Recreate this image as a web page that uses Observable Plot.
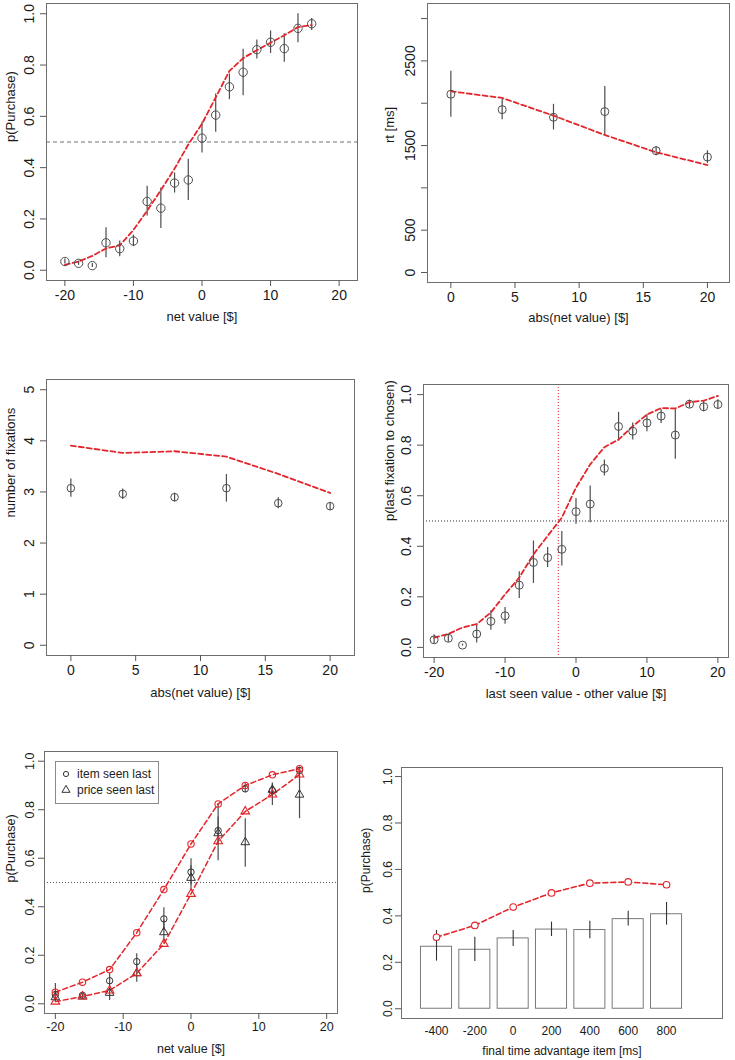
<!DOCTYPE html>
<html><head><meta charset="utf-8">
<script src="https://cdn.jsdelivr.net/npm/d3@7"></script>
<script src="https://cdn.jsdelivr.net/npm/@observablehq/plot@0.6"></script>
<style>
body{margin:0;background:#fff;font-family:"Liberation Sans",Arial,sans-serif;}
#page{position:relative;width:735px;height:1060px;overflow:hidden;background:#fff;}
.panel{position:absolute;}
.legend{position:absolute;border:1px solid #8a8a8a;background:#fff;font-size:12px;color:#222;}
.legend div{position:absolute;white-space:nowrap;line-height:12px;}
</style></head><body><div id="page"></div>
<script>
// ---------- Panel 1: p(Purchase) vs net value ----------
const p1X = [-20,-18,-16,-14,-12,-10,-8,-6,-4,-2,0,2,4,6,8,10,12,14,16];
const p1Obs = [0.034,0.027,0.018,0.107,0.084,0.114,0.268,0.242,0.340,0.352,0.515,0.605,0.715,0.772,0.860,0.889,0.864,0.943,0.961];
const p1Lo  = [0.024,0.019,0.011,0.049,0.053,0.092,0.211,0.163,0.301,0.272,0.457,0.538,0.665,0.680,0.824,0.845,0.811,0.887,0.935];
const p1Hi  = [0.044,0.036,0.026,0.166,0.114,0.137,0.327,0.321,0.379,0.433,0.577,0.687,0.765,0.862,0.898,0.933,0.922,1.000,0.982];
const p1Model = [0.021,0.034,0.056,0.085,0.097,0.157,0.232,0.312,0.396,0.490,0.571,0.674,0.777,0.827,0.858,0.887,0.916,0.948,0.956];

// ---------- Panel 2: rt vs abs(net value) ----------
const p2X = [0,4,8,12,16,20];
const p2Obs = [2106,1924,1834,1901,1439,1364];
const p2Lo  = [1834,1806,1684,1617,1380,1289];
const p2Hi  = [2378,2043,1987,2196,1487,1439];
const p2Model = [2141,2062,1853,1625,1420,1270];

// ---------- Panel 3: number of fixations ----------
const p3X = [0,4,8,12,16,20];
const p3Obs = [3.073,2.962,2.897,3.073,2.780,2.721];
const p3Lo  = [2.897,2.850,2.800,2.800,2.669,2.637];
const p3Hi  = [3.255,3.060,2.975,3.340,2.884,2.800];
const p3Model = [3.906,3.763,3.796,3.690,3.353,2.980];

// ---------- Panel 4: p(last fixation to chosen) ----------
const p4X = [-20,-18,-16,-14,-12,-10,-8,-6,-4,-2,0,2,4,6,8,10,12,14,16,18,20];
const p4Obs = [0.030,0.036,0.009,0.053,0.103,0.125,0.246,0.336,0.355,0.388,0.537,0.567,0.708,0.874,0.855,0.888,0.915,0.840,0.962,0.952,0.961];
const p4Lo  = [0.013,0.020,0.005,0.017,0.068,0.092,0.193,0.253,0.316,0.322,0.487,0.493,0.678,0.816,0.820,0.853,0.886,0.744,0.947,0.932,0.941];
const p4Hi  = [0.050,0.053,0.013,0.092,0.145,0.158,0.299,0.421,0.395,0.458,0.589,0.638,0.741,0.930,0.888,0.921,0.941,0.940,0.978,0.974,0.980];
const p4Model = [0.039,0.053,0.079,0.092,0.138,0.210,0.276,0.368,0.441,0.513,0.632,0.724,0.792,0.822,0.875,0.921,0.947,0.945,0.970,0.976,0.995];
const p4Cross = [-2.5];

// ---------- Panel 5: item vs price seen last ----------
const p5X = [-20,-16,-12,-8,-4,0,4,8,12,16];
const p5ItemObs = [0.038,0.035,0.095,0.174,0.350,0.543,0.714,0.886,0.879,0.962];
const p5ItemLo  = [0.007,0.025,0.065,0.144,0.302,0.490,0.655,0.870,0.850,0.945];
const p5ItemHi  = [0.084,0.045,0.125,0.206,0.396,0.598,0.770,0.910,0.910,0.975];
const p5PriceObs = [0.027,0.030,0.045,0.126,0.295,0.519,0.703,0.666,0.882,0.862];
const p5PriceLo  = [0.010,0.020,0.014,0.089,0.250,0.467,0.590,0.563,0.817,0.763];
const p5PriceHi  = [0.050,0.040,0.064,0.165,0.345,0.570,0.825,0.763,0.907,0.975];
const p5ItemModel  = [0.048,0.089,0.141,0.293,0.471,0.659,0.824,0.900,0.944,0.969];
const p5PriceModel = [0.009,0.030,0.055,0.126,0.247,0.453,0.670,0.793,0.863,0.945];
const p5Legend = ["item seen last", "price seen last"];

// ---------- Panel 6: final time advantage ----------
const p6X = [-400,-200,0,200,400,600,800];
const p6Obs = [0.267,0.254,0.303,0.341,0.339,0.386,0.407];
const p6Lo  = [0.205,0.204,0.268,0.311,0.301,0.356,0.360];
const p6Hi  = [0.337,0.308,0.337,0.373,0.377,0.420,0.458];
const p6Model = [0.308,0.359,0.438,0.499,0.541,0.546,0.534];

// ---------- tick labels ----------
const ticksNet = [-20,-10,0,10,20];
const ticksAbs = [0,5,10,15,20];
const ticksProb = [0,0.2,0.4,0.6,0.8,1.0];
const ticksRt = [0,500,1000,1500,2000,2500,3000];
const ticksRtLabelled = [0,500,1500,2500];
const ticksFix = [0,1,2,3,4,5];
const ticksTime = [-400,-200,0,200,400,600,800];

const RED = "#e3262c";
const GREY = "#4d4d4d";
const page = document.getElementById("page");

const rowsOf = (xs, cols) => xs.map((x, i) => {
  const r = {x};
  for (const k in cols) r[k] = cols[k][i];
  return r;
});

function mount(left, top, el) {
  const d = document.createElement("div");
  d.className = "panel";
  d.style.left = left + "px";
  d.style.top = top + "px";
  d.appendChild(el);
  page.appendChild(d);
}

function makePanel(c) {
  const fs = c.fontSize;
  const marks = [
    ...c.marks,
    Plot.frame({stroke: "#6e6e6e", strokeWidth: 1}),
    Plot.axisX({ticks: c.xTicks, tickSize: c.xTickSize ?? 6, tickPadding: c.xPad ?? 4,
      tickFormat: d => String(d), fontSize: fs, label: null, stroke: "#555", fill: "#1a1a1a"}),
    Plot.axisY({ticks: c.yTicks, tickSize: 6, tickRotate: -90, tickPadding: c.yPad ?? 7,
      tickFormat: c.yFormat, fontSize: fs, label: null, stroke: "#555", fill: "#1a1a1a"}),
    Plot.text([c.xTitle], {text: d => d, frameAnchor: "bottom", dy: c.xTitleDy, fontSize: c.titleSize,
      lineAnchor: "middle", fill: "#1a1a1a"}),
    Plot.text([c.yTitle], {text: d => d, frameAnchor: "left", dx: -c.yTitleDx, rotate: -90,
      fontSize: c.titleSize, lineAnchor: "middle", fill: "#1a1a1a"})
  ];
  return Plot.plot({
    width: c.width, height: c.height,
    marginLeft: c.mL, marginRight: c.mR, marginTop: c.mT, marginBottom: c.mB,
    x: {type: "linear", domain: c.xDomain},
    y: {type: "linear", domain: c.yDomain},
    style: {fontFamily: "'Liberation Sans', Arial, sans-serif", background: "transparent",
      overflow: "visible", color: "#1a1a1a"},
    marks
  });
}

const f1 = d => d.toFixed(1);

// Panel 1
{
  const rows = rowsOf(p1X, {obs: p1Obs, lo: p1Lo, hi: p1Hi, model: p1Model});
  mount(0, 0, makePanel({
    width: 367, height: 330, mL: 46, mR: 10, mT: 3, mB: 50,
    xDomain: [-22.68, 22.68], yDomain: [-0.04, 1.04],
    xTicks: ticksNet, yTicks: ticksProb, yFormat: f1, fontSize: 14, titleSize: 13,
    xTitle: "net value [$]", xTitleDy: 36, yTitle: "p(Purchase)", yTitleDx: 36,
    marks: [
      Plot.ruleY([0.5], {stroke: "#707070", strokeDasharray: "4,3", strokeWidth: 1}),
      Plot.ruleX(rows, {x: "x", y1: "lo", y2: "hi", stroke: GREY, strokeWidth: 1.2}),
      Plot.line(rows, {x: "x", y: "model", stroke: RED, strokeWidth: 1.8, strokeDasharray: "5,3"}),
      Plot.dot(rows, {x: "x", y: "obs", r: 4.2, stroke: GREY, fill: "none", strokeWidth: 1})
    ]
  }));
}

// Panel 2
{
  const rows = rowsOf(p2X, {obs: p2Obs, lo: p2Lo, hi: p2Hi, model: p2Model});
  mount(367, 0, makePanel({
    width: 368, height: 330, mL: 60, mR: 6, mT: 3, mB: 48,
    xDomain: [-1.82, 21.72], yDomain: [-118, 3178],
    xTicks: ticksAbs, yTicks: ticksRt,
    yFormat: d => ticksRtLabelled.includes(d) ? String(d) : "",
    fontSize: 14, titleSize: 13,
    xTitle: "abs(net value) [$]", xTitleDy: 35, yTitle: "rt [ms]", yTitleDx: 38,
    marks: [
      Plot.ruleX(rows, {x: "x", y1: "lo", y2: "hi", stroke: GREY, strokeWidth: 1.2}),
      Plot.line(rows, {x: "x", y: "model", stroke: RED, strokeWidth: 1.8, strokeDasharray: "5,3"}),
      Plot.dot(rows, {x: "x", y: "obs", r: 4, stroke: GREY, fill: "none", strokeWidth: 1})
    ]
  }));
}

// Panel 3
{
  const rows = rowsOf(p3X, {obs: p3Obs, lo: p3Lo, hi: p3Hi, model: p3Model});
  mount(0, 335, makePanel({
    width: 367, height: 365, mL: 46, mR: 13, mT: 44, mB: 45,
    xDomain: [-1.88, 21.88], yDomain: [-0.2, 5.2],
    xTicks: ticksAbs, yTicks: ticksFix, yFormat: d => String(d), fontSize: 14, titleSize: 13,
    xTitle: "abs(net value) [$]", xTitleDy: 37, yTitle: "number of fixations", yTitleDx: 36,
    marks: [
      Plot.ruleX(rows, {x: "x", y1: "lo", y2: "hi", stroke: GREY, strokeWidth: 1.2}),
      Plot.line(rows, {x: "x", y: "model", stroke: RED, strokeWidth: 1.8, strokeDasharray: "5,3"}),
      Plot.dot(rows, {x: "x", y: "obs", r: 3.8, stroke: GREY, fill: "none", strokeWidth: 1})
    ]
  }));
}

// Panel 4
{
  const rows = rowsOf(p4X, {obs: p4Obs, lo: p4Lo, hi: p4Hi, model: p4Model});
  mount(367, 335, makePanel({
    width: 368, height: 365, mL: 56, mR: 7, mT: 49, mB: 43,
    xDomain: [-21.5, 21.5], yDomain: [-0.04, 1.04],
    xTicks: ticksNet, yTicks: ticksProb, yFormat: f1, fontSize: 14, titleSize: 13,
    xTitle: "last seen value - other value [$]", xTitleDy: 36,
    yTitle: "p(last fixation to chosen)", yTitleDx: 34,
    marks: [
      Plot.ruleY([0.5], {stroke: "#333", strokeDasharray: "1,2", strokeWidth: 1}),
      Plot.ruleX(p4Cross, {stroke: RED, strokeDasharray: "1,2", strokeWidth: 1}),
      Plot.ruleX(rows, {x: "x", y1: "lo", y2: "hi", stroke: GREY, strokeWidth: 1.2}),
      Plot.line(rows, {x: "x", y: "model", stroke: RED, strokeWidth: 1.8, strokeDasharray: "5,3"}),
      Plot.dot(rows, {x: "x", y: "obs", r: 4, stroke: GREY, fill: "none", strokeWidth: 1})
    ]
  }));
}

// Panel 5
{
  const item = rowsOf(p5X, {obs: p5ItemObs, lo: p5ItemLo, hi: p5ItemHi, model: p5ItemModel});
  const price = rowsOf(p5X, {obs: p5PriceObs, lo: p5PriceLo, hi: p5PriceHi, model: p5PriceModel});
  mount(0, 700, makePanel({
    width: 367, height: 360, mL: 44, mR: 30, mT: 51, mB: 47,
    xDomain: [-21.6, 21.6], yDomain: [-0.04, 1.04],
    xTicks: ticksNet, yTicks: ticksProb, yFormat: f1, fontSize: 12.5, titleSize: 12.5,
    xPad: 3, yPad: 5,
    xTitle: "net value [$]", xTitleDy: 35, yTitle: "p(Purchase)", yTitleDx: 34,
    marks: [
      Plot.ruleY([0.5], {stroke: "#555", strokeDasharray: "1,2", strokeWidth: 1}),
      Plot.ruleX(item, {x: "x", y1: "lo", y2: "hi", stroke: GREY, strokeWidth: 1.2}),
      Plot.ruleX(price, {x: "x", y1: "lo", y2: "hi", stroke: GREY, strokeWidth: 1.2}),
      Plot.line(item, {x: "x", y: "model", stroke: RED, strokeWidth: 1.5, strokeDasharray: "5,3"}),
      Plot.line(price, {x: "x", y: "model", stroke: RED, strokeWidth: 1.5, strokeDasharray: "5,3"}),
      Plot.dot(item, {x: "x", y: "obs", r: 3.2, symbol: "circle", stroke: "#333", fill: "none", strokeWidth: 1}),
      Plot.dot(price, {x: "x", y: "obs", r: 3.2, symbol: "triangle", stroke: "#333", fill: "none", strokeWidth: 1}),
      Plot.dot(item, {x: "x", y: "model", r: 3.2, symbol: "circle", stroke: RED, fill: "none", strokeWidth: 1.1}),
      Plot.dot(price, {x: "x", y: "model", r: 3.2, symbol: "triangle", stroke: RED, fill: "none", strokeWidth: 1.1})
    ]
  }));
  // legend
  const lg = document.createElement("div");
  lg.className = "legend";
  Object.assign(lg.style, {left: "55px", top: "761px", width: "102px", height: "41px"});
  lg.innerHTML =
    `<svg width="20" height="41" style="position:absolute;left:0;top:0">
       <circle cx="10" cy="12" r="2.6" fill="none" stroke="#333"/>
       <path d="${d3.symbol(d3.symbolTriangle, 28)()}" transform="translate(10,28)" fill="none" stroke="#333"/>
     </svg>
     <div style="left:21px;top:6px">${p5Legend[0]}</div>
     <div style="left:21px;top:22px">${p5Legend[1]}</div>`;
  page.appendChild(lg);
}

// Panel 6
{
  const rows = rowsOf(p6X, {obs: p6Obs, lo: p6Lo, hi: p6Hi, model: p6Model});
  const half = 81;
  mount(360, 700, makePanel({
    width: 375, height: 360, mL: 41, mR: 13, mT: 67, mB: 42,
    xDomain: [-582.6, 1092], yDomain: [-0.042, 1.039],
    xTicks: ticksTime, xTickSize: 0, xPad: 8, yPad: 4,
    yTicks: ticksProb, yFormat: f1, fontSize: 12, titleSize: 12,
    xTitle: "final time advantage item [ms]", xTitleDy: 33, yTitle: "p(Purchase)", yTitleDx: 35,
    marks: [
      Plot.rect(rows, {x1: d => d.x - half, x2: d => d.x + half, y1: 0, y2: "obs",
        fill: "white", stroke: "#7a7a7a", strokeWidth: 1}),
      Plot.ruleX(rows, {x: "x", y1: "lo", y2: "hi", stroke: "#333", strokeWidth: 1.1}),
      Plot.line(rows, {x: "x", y: "model", stroke: RED, strokeWidth: 1.6, strokeDasharray: "5,3"}),
      Plot.dot(rows, {x: "x", y: "model", r: 3.3, stroke: RED, fill: "white", strokeWidth: 1.1})
    ]
  }));
}
</script>
</body></html>
